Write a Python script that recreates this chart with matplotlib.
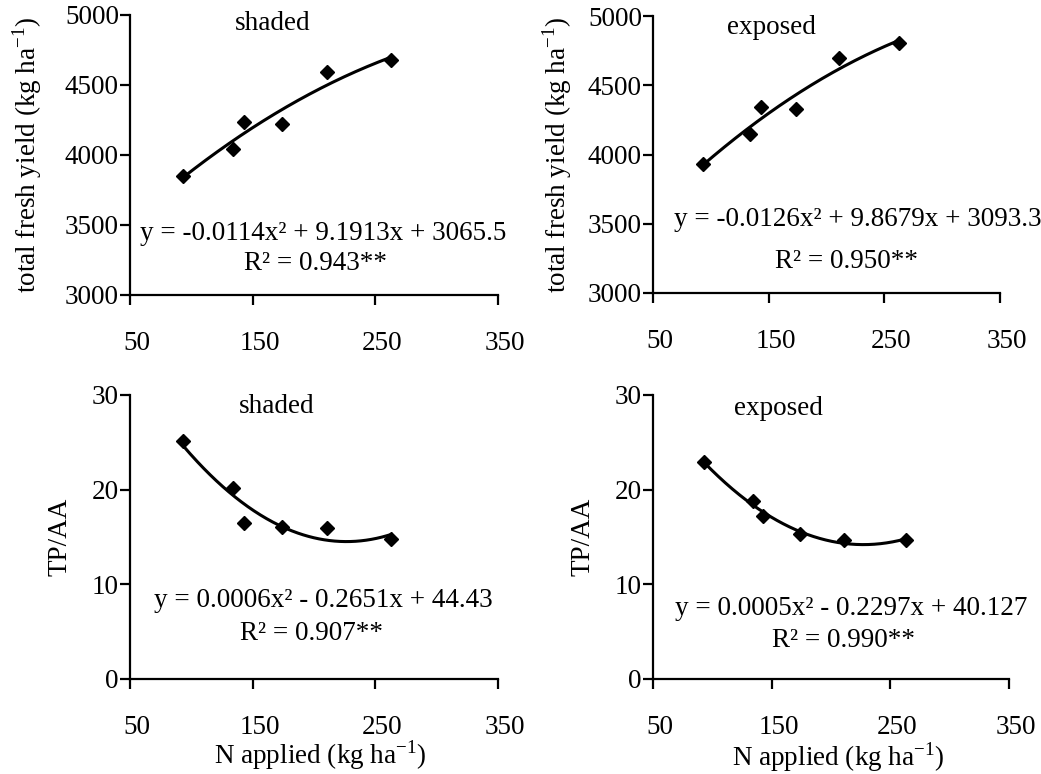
import numpy as np
import matplotlib
matplotlib.use("Agg")
import matplotlib.pyplot as plt
from matplotlib.transforms import ScaledTranslation

plt.rcParams['font.family'] = ['Liberation Serif', 'DejaVu Serif']
plt.rcParams['mathtext.fontset'] = 'custom'
plt.rcParams['mathtext.rm'] = 'Liberation Serif'

# data
n_applied = [93, 134, 143, 174, 211, 263]

yield_shaded = [3850, 4045, 4236, 4221, 4593, 4675]
yield_exposed = [3930, 4150, 4340, 4330, 4700, 4805]
tpaa_shaded = [25.1, 20.2, 16.5, 16.1, 15.9, 14.8]
tpaa_exposed = [22.9, 18.8, 17.2, 15.3, 14.7, 14.7]

eq_yield_shaded = "y = -0.0114x² + 9.1913x + 3065.5"
eq_yield_exposed = "y = -0.0126x² + 9.8679x + 3093.3"
eq_tpaa_shaded = "y = 0.0006x² - 0.2651x + 44.43"
eq_tpaa_exposed = "y = 0.0005x² - 0.2297x + 40.127"

r2_yield_shaded = "R² = 0.943**"
r2_yield_exposed = "R² = 0.950**"
r2_tpaa_shaded = "R² = 0.907**"
r2_tpaa_exposed = "R² = 0.990**"

x_ticks = [50, 150, 250, 350]
yield_ticks = [3000, 3500, 4000, 4500, 5000]
tpaa_ticks = [0, 10, 20, 30]

FS = 19.5
W, H = 1041, 774
fig = plt.figure(figsize=(W / 100, H / 100), dpi=100)


def make_axes(left, right, top, bottom):
    return fig.add_axes([left / W, 1 - bottom / H, (right - left) / W, (bottom - top) / H])


def panel(ax, yvals, eq, r2, title, yticks, ylabel, xlabel, pos):
    ax.plot(n_applied, yvals, linestyle='none', marker='D', markersize=7.5,
            color='black', zorder=3)
    # second order trend line, fitted to the points like the spreadsheet did
    coef = np.polyfit(n_applied, yvals, 2)
    xs = np.linspace(min(n_applied), max(n_applied), 200)
    ax.plot(xs, np.polyval(coef, xs), color='black', linewidth=2.2, zorder=2)

    ax.set_xlim(x_ticks[0], x_ticks[-1])
    ax.set_ylim(yticks[0], yticks[-1])
    ax.set_xticks(x_ticks)
    ax.set_yticks(yticks)
    for side in ('top', 'right'):
        ax.spines[side].set_visible(False)
    for side in ('left', 'bottom'):
        ax.spines[side].set_linewidth(1.6)
    ax.tick_params(axis='both', direction='out', length=7, width=1.6,
                   labelsize=FS)
    ax.tick_params(axis='x', pad=19)
    ax.tick_params(axis='y', pad=1)
    off = ScaledTranslation(7 / 100, 0, fig.dpi_scale_trans)
    for lab in ax.get_xticklabels():
        lab.set_transform(lab.get_transform() + off)

    ax.set_ylabel(ylabel, fontsize=FS, va='center')
    ax.yaxis.set_label_coords(pos['ylab'], 0.5)
    if xlabel:
        ax.set_xlabel(xlabel, fontsize=FS, va='center')
        ax.xaxis.set_label_coords(pos['xlab'][0], pos['xlab'][1])

    ax.text(pos['title'][0], pos['title'][1], title, transform=ax.transAxes,
            ha='center', va='center', fontsize=FS)
    ax.text(pos['eq'][0], pos['eq'][1], eq, transform=ax.transAxes,
            ha='center', va='center', fontsize=FS)
    ax.text(pos['r2'][0], pos['r2'][1], r2, transform=ax.transAxes,
            ha='center', va='center', fontsize=FS)


ylab_yield = r'total fresh yield (kg ha$^{\mathrm{-1}}$)'
xlab_n = r'N applied (kg ha$^{\mathrm{-1}}$)'

ax1 = make_axes(130, 498, 15, 295)
panel(ax1, yield_shaded, eq_yield_shaded, r2_yield_shaded, 'shaded',
      yield_ticks, ylab_yield, None,
      dict(ylab=-0.28, title=(0.389, 0.971), eq=(0.525, 0.221), r2=(0.503, 0.114)))

ax2 = make_axes(653, 1000, 16, 293)
panel(ax2, yield_exposed, eq_yield_exposed, r2_yield_exposed, 'exposed',
      yield_ticks, ylab_yield, None,
      dict(ylab=-0.277, title=(0.342, 0.96), eq=(0.591, 0.264), r2=(0.558, 0.113)))

ax3 = make_axes(130, 498, 395, 679)
panel(ax3, tpaa_shaded, eq_tpaa_shaded, r2_tpaa_shaded, 'shaded',
      tpaa_ticks, 'TP/AA', xlab_n,
      dict(ylab=-0.19, xlab=(0.516, -0.268), title=(0.399, 0.959),
           eq=(0.525, 0.278), r2=(0.494, 0.161)))

ax4 = make_axes(653, 1009, 395, 679)
panel(ax4, tpaa_exposed, eq_tpaa_exposed, r2_tpaa_exposed, 'exposed',
      tpaa_ticks, 'TP/AA', xlab_n,
      dict(ylab=-0.197, xlab=(0.52, -0.275), title=(0.351, 0.954),
           eq=(0.558, 0.249), r2=(0.535, 0.137)))

fig.savefig('out.png', dpi=100)
